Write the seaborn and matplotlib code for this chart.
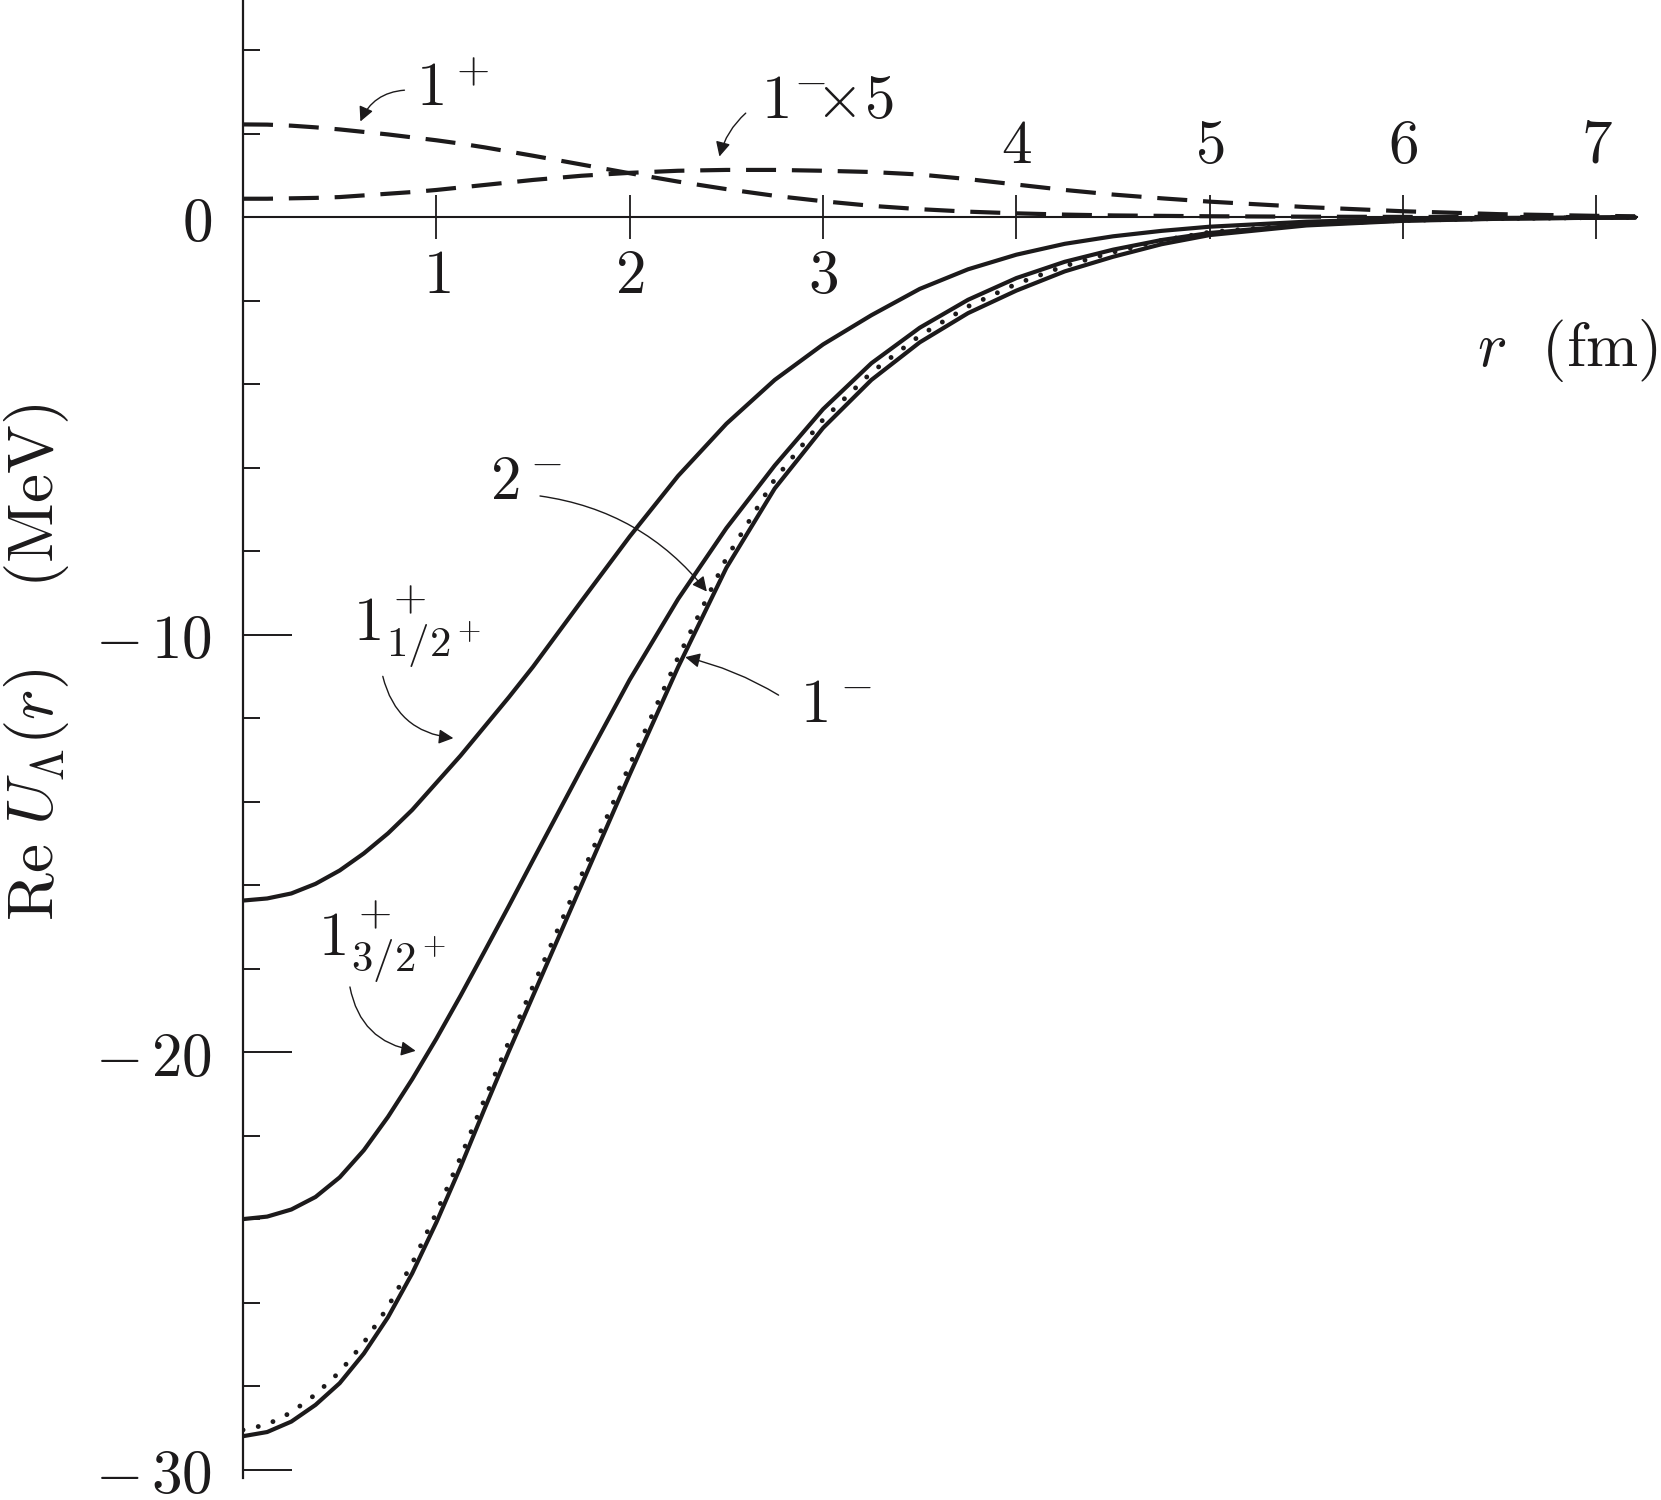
import numpy as np
import pandas as pd
import matplotlib
matplotlib.use("Agg")
import matplotlib.pyplot as plt
from matplotlib.ticker import MultipleLocator, FixedLocator, FixedFormatter
import seaborn as sns

# ---------------- data ----------------
r_fm = [0, 0.125, 0.25, 0.375, 0.5, 0.625, 0.75, 0.875, 1.0, 1.125, 1.25, 1.375,
        1.5, 1.75, 2.0, 2.25, 2.5, 2.75, 3.0, 3.25, 3.5, 3.75, 4.0, 4.25, 4.5,
        4.75, 5.0, 5.5, 6.0, 6.5, 7.0, 7.2]

u_1p_half = [-16.37, -16.32, -16.2, -15.97, -15.65, -15.24, -14.76, -14.2, -13.55,
             -12.9, -12.2, -11.5, -10.77, -9.2, -7.65, -6.2, -4.95, -3.9, -3.05,
             -2.35, -1.72, -1.25, -0.9, -0.64, -0.46, -0.33, -0.23, -0.11, -0.05,
             -0.02, -0.01, -0.005]

u_1p_3half = [-24.0, -23.94, -23.77, -23.47, -23.0, -22.35, -21.55, -20.65, -19.68,
              -18.65, -17.58, -16.5, -15.4, -13.22, -11.08, -9.15, -7.45, -5.95,
              -4.6, -3.5, -2.65, -1.98, -1.46, -1.07, -0.78, -0.55, -0.38, -0.18,
              -0.08, -0.035, -0.015, -0.01]

u_1m = [-29.2, -29.1, -28.85, -28.45, -27.93, -27.22, -26.35, -25.3, -24.08, -22.75,
        -21.35, -19.98, -18.65, -16.0, -13.35, -10.78, -8.4, -6.5, -5.05, -3.9, -3.0,
        -2.3, -1.76, -1.3, -0.95, -0.65, -0.43, -0.2, -0.09, -0.04, -0.015, -0.01]

u_2m = [-29.05, -28.92, -28.63, -28.2, -27.66, -26.96, -26.1, -25.06, -23.85, -22.52,
        -21.12, -19.75, -18.42, -15.77, -13.12, -10.55, -8.17, -6.28, -4.85, -3.72,
        -2.84, -2.14, -1.6, -1.17, -0.84, -0.56, -0.36, -0.17, -0.08, -0.035, -0.012,
        -0.008]

u_1p_small = [2.22, 2.215, 2.19, 2.15, 2.1, 2.04, 1.98, 1.91, 1.84, 1.76, 1.67, 1.57,
              1.47, 1.26, 1.05, 0.85, 0.67, 0.51, 0.38, 0.27, 0.19, 0.13, 0.09, 0.06,
              0.04, 0.03, 0.02, 0.01, 0.005, 0.002, 0.001, 0.0]

u_1m_x5 = [0.44, 0.44, 0.45, 0.46, 0.48, 0.52, 0.56, 0.6, 0.65, 0.71, 0.77, 0.83, 0.89,
           0.99, 1.06, 1.11, 1.13, 1.13, 1.11, 1.08, 1.02, 0.91, 0.78, 0.65, 0.54, 0.45,
           0.37, 0.24, 0.14, 0.07, 0.03, 0.02]

y_major = [-30, -20, -10, 0]
y_major_labels = [r"$-\,30$", r"$-\,20$", r"$-\,10$", r"$0$"]
x_ticks = [1, 2, 3, 4, 5, 6, 7]
x_labels_below = [1, 2, 3]
x_labels_above = [4, 5, 6, 7]

# ---------------- style ----------------
sns.set_theme(style="white")
plt.rcParams["mathtext.fontset"] = "cm"
plt.rcParams["font.family"] = ["DejaVu Serif"]

INK = "#1c1a1b"
FS = 44

fig = plt.figure(figsize=(16.61, 15), dpi=100)
fig.patch.set_facecolor("white")
ax = fig.add_axes([0.1463, 0.0147, 0.8393, 0.9853])
ax.set_facecolor("white")

curves = [
    ("1+ 1/2+", u_1p_half, "solid"),
    ("1+ 3/2+", u_1p_3half, "solid"),
    ("1-", u_1m, "solid"),
    ("2-", u_2m, "dotted"),
    ("1+ (dashed)", u_1p_small, "dashed"),
    ("1- x5", u_1m_x5, "dashed"),
]
frames = []
for name, vals, st in curves:
    frames.append(pd.DataFrame({"r": r_fm, "U": vals, "curve": name, "kind": st}))
df = pd.concat(frames, ignore_index=True)

for name, vals, st in curves:
    sub = df[df["curve"] == name]
    n_before = len(ax.lines)
    sns.lineplot(data=sub, x="r", y="U", ax=ax, color=INK, estimator=None,
                 sort=False, legend=False)
    line = ax.lines[n_before]
    line.set_solid_joinstyle("round")
    if st == "solid":
        line.set_linewidth(3.0)
        line.set_linestyle("-")
    elif st == "dotted":
        line.set_linewidth(3.5)
        line.set_linestyle((0, (0.01, 3.2)))
        line.set_dash_capstyle("round")
    else:
        line.set_linewidth(3.0)
        line.set_linestyle((0, (7.2, 3.8)))
        line.set_dash_capstyle("butt")

# ---------------- axes ----------------
ax.set_xlim(0, 7.21)
ax.set_ylim(-30.2, 5.2)
ax.set_xlabel("")
ax.set_ylabel("")
ax.grid(False)
ax.spines["top"].set_visible(False)
ax.spines["right"].set_visible(False)
ax.spines["bottom"].set_position(("data", 0))
ax.spines["bottom"].set_linewidth(1.5)
ax.spines["bottom"].set_color(INK)
ax.spines["left"].set_linewidth(1.6)
ax.spines["left"].set_color(INK)

ax.xaxis.set_major_locator(FixedLocator(x_ticks))
ax.set_xticklabels([])
ax.tick_params(axis="x", which="major", direction="inout", length=31, width=1.3,
               color=INK, bottom=True, labelbottom=False)

ax.yaxis.set_major_locator(FixedLocator(y_major))
ax.yaxis.set_major_formatter(FixedFormatter(y_major_labels))
ax.yaxis.set_minor_locator(MultipleLocator(2))
ax.tick_params(axis="y", which="major", direction="in", length=35, width=1.4,
               color=INK, pad=22, labelsize=FS, labelcolor=INK, left=True)
ax.tick_params(axis="y", which="minor", direction="in", length=12, width=1.4,
               color=INK, left=True)

for v in x_labels_below:
    ax.text(v, -1.4, f"${v}$", ha="center", va="center", fontsize=FS, color=INK)
for v in x_labels_above:
    ax.text(v, 1.71, f"${v}$", ha="center", va="center", fontsize=FS, color=INK)

# ---------------- labels & annotations ----------------
fig.text(1657 / 1661, 1 - 350 / 1500, r"$r\ \ (\mathrm{fm})$", ha="right",
         va="center", fontsize=FS + 1, color=INK)
fig.text(37 / 1661, 1 - 662 / 1500,
         r"$\mathrm{Re}\ U_\Lambda(r)\quad\ (\mathrm{MeV})$",
         rotation=90, ha="center", va="center", fontsize=FS + 3, color=INK)

def label(x, y, s):
    ax.text(x, y, s, ha="left", va="baseline", fontsize=FS, color=INK)

def arrow(start, tip, rad):
    ax.annotate("", xy=tip, xytext=start,
                arrowprops=dict(arrowstyle="-|>", color=INK, lw=1.0,
                                connectionstyle=f"arc3,rad={rad}",
                                mutation_scale=22, shrinkA=0, shrinkB=0))

label(0.895, 2.66, r"$1^+$")
arrow((0.835, 3.04), (0.607, 2.29), 0.3)

label(2.68, 2.38, r"$1^{-}\!\!\!\times\!5$")
arrow((2.60, 2.49), (2.464, 1.45), 0.15)

label(0.57, -10.17, r"$1^+_{1/2^+}$")
arrow((0.723, -11.0), (1.088, -12.48), 0.35)

label(0.388, -17.72, r"$1^+_{3/2^+}$")
arrow((0.553, -18.44), (0.893, -19.97), 0.35)

label(1.278, -6.76, r"$2^-$")
arrow((1.536, -6.68), (2.399, -8.97), -0.2)

label(2.88, -12.09, r"$1^-$")
arrow((2.77, -11.45), (2.287, -10.54), 0.08)

fig.savefig("out.png", dpi=100, facecolor="white")
